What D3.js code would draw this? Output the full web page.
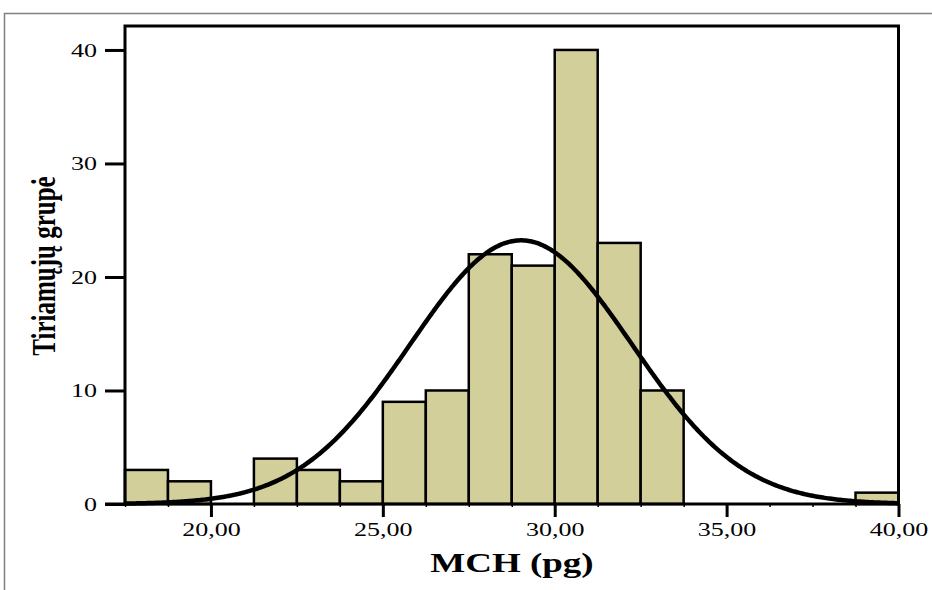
<!DOCTYPE html>
<html>
<head>
<meta charset="utf-8">
<script src="https://cdn.jsdelivr.net/npm/d3@7"></script>
<style>
  body { margin: 0; background: #fff; }
  svg text { font-family: "Liberation Serif", "Times New Roman", serif; fill: #000; }
</style>
</head>
<body>
<div id="chart"></div>
<script>
// histogram of MCH values, bins of 1,25 pg starting at 17,5
var binLow = [17.5, 18.75, 20, 21.25, 22.5, 23.75, 25, 26.25, 27.5, 28.75,
              30, 31.25, 32.5, 33.75, 35, 36.25, 37.5, 38.75];
var counts = [3, 2, 0, 4, 3, 2, 9, 10, 22, 21, 40, 23, 10, 0, 0, 0, 0, 1];
var binWidth = 1.25;

var xTicks = [20, 25, 30, 35, 40];
var yTicks = [0, 10, 20, 30, 40];

// fitted normal curve parameters
var curveMean = 29.02, curveSd = 3.22, curveN = 150;

var W = 932, H = 590;
var stretch = 1.37; // the source picture is stretched sideways

var svg = d3.select("#chart").append("svg")
    .attr("width", W)
    .attr("height", H);

// outer grey frame
svg.append("rect")
    .attr("x", 4.5).attr("y", 13.5)
    .attr("width", 960).attr("height", 620)
    .attr("fill", "none")
    .attr("stroke", "#808080")
    .attr("stroke-width", 1.5);

var x = d3.scaleLinear().domain([17.5, 40]).range([125, 898.5]);
var y = d3.scaleLinear().domain([0, 42.11]).range([504, 26]);

var data = binLow.map(function(d, i) { return {x0: d, x1: d + binWidth, n: counts[i]}; })
    .filter(function(d) { return d.n > 0; });

svg.selectAll(".bar")
    .data(data)
  .enter().append("rect")
    .attr("class", "bar")
    .attr("x", function(d) { return x(d.x0); })
    .attr("y", function(d) { return y(d.n); })
    .attr("width", function(d) { return x(d.x1) - x(d.x0); })
    .attr("height", function(d) { return y(0) - y(d.n); })
    .attr("fill", "#d3cf9a")
    .attr("stroke", "#000")
    .attr("stroke-width", 2.5);

// normal curve
var pts = d3.range(17.5, 40.001, 0.05).map(function(v) {
    var z = (v - curveMean) / curveSd;
    return [v, curveN * binWidth / (curveSd * Math.sqrt(2 * Math.PI)) * Math.exp(-0.5 * z * z)];
});
svg.append("path")
    .datum(pts)
    .attr("fill", "none")
    .attr("stroke", "#000")
    .attr("stroke-width", 4.5)
    .attr("d", d3.line()
        .x(function(d) { return x(d[0]); })
        .y(function(d) { return y(d[1]); })
        .curve(d3.curveBasis));

// minor ticks at bin edges
var xMinor = svg.append("g")
    .attr("transform", "translate(0,504)")
    .call(d3.axisBottom(x).tickValues(binLow.concat([40])).tickSize(3).tickFormat(""));
xMinor.select(".domain").remove();
xMinor.selectAll("line").attr("stroke-width", 1.5);

// x axis
var xAxis = svg.append("g")
    .attr("transform", "translate(0,504)")
    .call(d3.axisBottom(x)
        .tickValues(xTicks)
        .tickSize(13)
        .tickPadding(6)
        .tickFormat(function(d) { return d3.format(".2f")(d).replace(".", ","); }));
xAxis.select(".domain").remove();
xAxis.selectAll("line").attr("stroke-width", 3);
xAxis.selectAll("text")
    .attr("font-size", 19)
    .attr("font-family", "Liberation Serif")
    .attr("transform", "scale(" + stretch + ",1)");

// y axis
var yAxis = svg.append("g")
    .attr("transform", "translate(125,0)")
    .call(d3.axisLeft(y).tickValues(yTicks).tickSize(20));
yAxis.select(".domain").remove();
yAxis.selectAll("line").attr("stroke-width", 3);
yAxis.selectAll("text")
    .attr("font-size", 19)
    .attr("font-family", "Liberation Serif")
    .attr("x", -28 / stretch)
    .attr("transform", "scale(" + stretch + ",1)");

// x axis line, extended left under the zero tick
svg.append("line")
    .attr("x1", 105).attr("x2", 899)
    .attr("y1", 504).attr("y2", 504)
    .attr("stroke", "#000")
    .attr("stroke-width", 3);

// plot frame
svg.append("path")
    .attr("d", "M125,504V26H898.5V504")
    .attr("fill", "none")
    .attr("stroke", "#000")
    .attr("stroke-width", 3);

// titles
svg.append("text")
    .attr("transform", "translate(512,572) scale(" + stretch + ",1)")
    .attr("text-anchor", "middle")
    .attr("font-weight", "bold")
    .attr("font-size", 27)
    .text("MCH (pg)");

svg.append("text")
    .attr("transform", "translate(55,266) rotate(-90) scale(1," + stretch + ")")
    .attr("text-anchor", "middle")
    .attr("font-weight", "bold")
    .attr("font-size", 25)
    .text("Tiriamųjų grupė");
</script>
</body>
</html>
